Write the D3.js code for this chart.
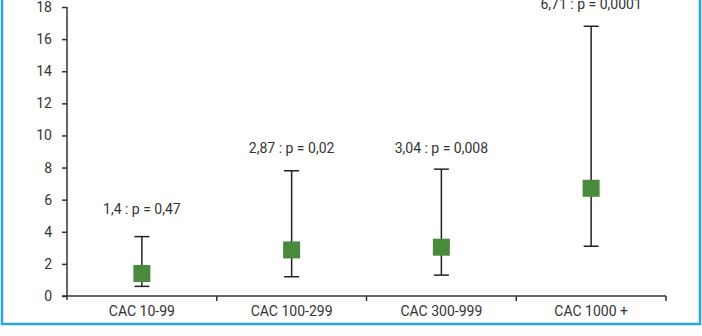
<!DOCTYPE html>
<html>
<head>
<meta charset="utf-8">
<script src="https://cdn.jsdelivr.net/npm/d3@7"></script>
<style>
  html, body { margin: 0; padding: 0; background: #fff; }
  svg { display: block; }
  text { font-family: Roboto, "DejaVu Sans", sans-serif; fill: #333; }
</style>
</head>
<body>
<svg id="chart" width="702" height="336"></svg>
<script>
// Odds ratios with 95% confidence intervals per coronary calcium group
const categories = ["CAC 10-99", "CAC 100-299", "CAC 300-999", "CAC 1000 +"];
const oddsRatio  = [1.4, 2.87, 3.04, 6.71];
const ciLower    = [0.6, 1.2, 1.3, 3.1];
const ciUpper    = [3.7, 7.8, 7.9, 16.8];
const pValues    = ["0,47", "0,02", "0,008", "0,0001"];
const yTicks     = [0, 2, 4, 6, 8, 10, 12, 14, 16, 18];

const svg = d3.select("#chart");
const plotLeft = 67, plotRight = 666, plotTop = 7, plotBottom = 296;

const x = d3.scaleBand().domain(categories).range([plotLeft, plotRight]);
const y = d3.scaleLinear().domain([0, 18]).range([plotBottom, plotTop]);

// frame
svg.append("rect")
  .attr("x", 2).attr("y", -10)
  .attr("width", 698).attr("height", 334)
  .attr("fill", "none")
  .attr("stroke", "#2aa6df")
  .attr("stroke-width", 2.5);

// y axis
const yAxis = svg.append("g")
  .attr("transform", `translate(${plotLeft},0)`)
  .call(d3.axisLeft(y).tickValues(yTicks).tickSize(5).tickPadding(10).tickSizeOuter(0));
yAxis.select(".domain").attr("stroke", "#333").attr("stroke-width", 1.5)
  .attr("d", `M0,${plotTop}V${plotBottom + 4}`);
yAxis.selectAll(".tick line").attr("stroke", "#333").attr("stroke-width", 1.5);
yAxis.selectAll(".tick text").style("font-size", "14px").attr("fill", "#333");

// x axis: ticks on band boundaries
const xAxis = svg.append("g")
  .attr("transform", `translate(0,${plotBottom})`);
xAxis.append("path")
  .attr("d", `M${plotLeft - 5},0H${plotRight}`)
  .attr("stroke", "#333").attr("stroke-width", 1.5).attr("fill", "none");
const bounds = categories.map(c => x(c)).concat([x(categories[categories.length - 1]) + x.bandwidth()]);
xAxis.selectAll("line.b").data(bounds.slice(1)).join("line")
  .attr("x1", d => d).attr("x2", d => d)
  .attr("y1", 0).attr("y2", 5)
  .attr("stroke", "#333").attr("stroke-width", 1.5);
xAxis.selectAll("text").data(categories).join("text")
  .attr("x", d => x(d) + x.bandwidth() / 2)
  .attr("y", 20)
  .attr("text-anchor", "middle")
  .style("font-size", "14px")
  .text(d => d);

// error bars and point estimates
const cx = i => x(categories[i]) + x.bandwidth() / 2;
const capW = 7.5, sq = 17;
const g = svg.append("g");
categories.forEach((c, i) => {
  g.append("line")
    .attr("x1", cx(i)).attr("x2", cx(i))
    .attr("y1", y(ciLower[i])).attr("y2", y(ciUpper[i]))
    .attr("stroke", "#222").attr("stroke-width", 1.5);
  [ciLower[i], ciUpper[i]].forEach(v => {
    g.append("line")
      .attr("x1", cx(i) - capW).attr("x2", cx(i) + capW)
      .attr("y1", y(v)).attr("y2", y(v))
      .attr("stroke", "#222").attr("stroke-width", 1.5);
  });
  g.append("rect")
    .attr("x", cx(i) - sq / 2).attr("y", y(oddsRatio[i]) - sq / 2)
    .attr("width", sq).attr("height", sq)
    .attr("fill", "#4a8a3c");
});

// value labels above each interval
const labelGap = [23, 18, 16, 17];
g.selectAll("text.lab").data(categories).join("text")
  .attr("class", "lab")
  .attr("x", (d, i) => cx(i))
  .attr("y", (d, i) => y(ciUpper[i]) - labelGap[i])
  .attr("text-anchor", "middle")
  .style("font-size", "14px")
  .text((d, i) => `${String(oddsRatio[i]).replace(".", ",")} : p = ${pValues[i]}`);
</script>
</body>
</html>
